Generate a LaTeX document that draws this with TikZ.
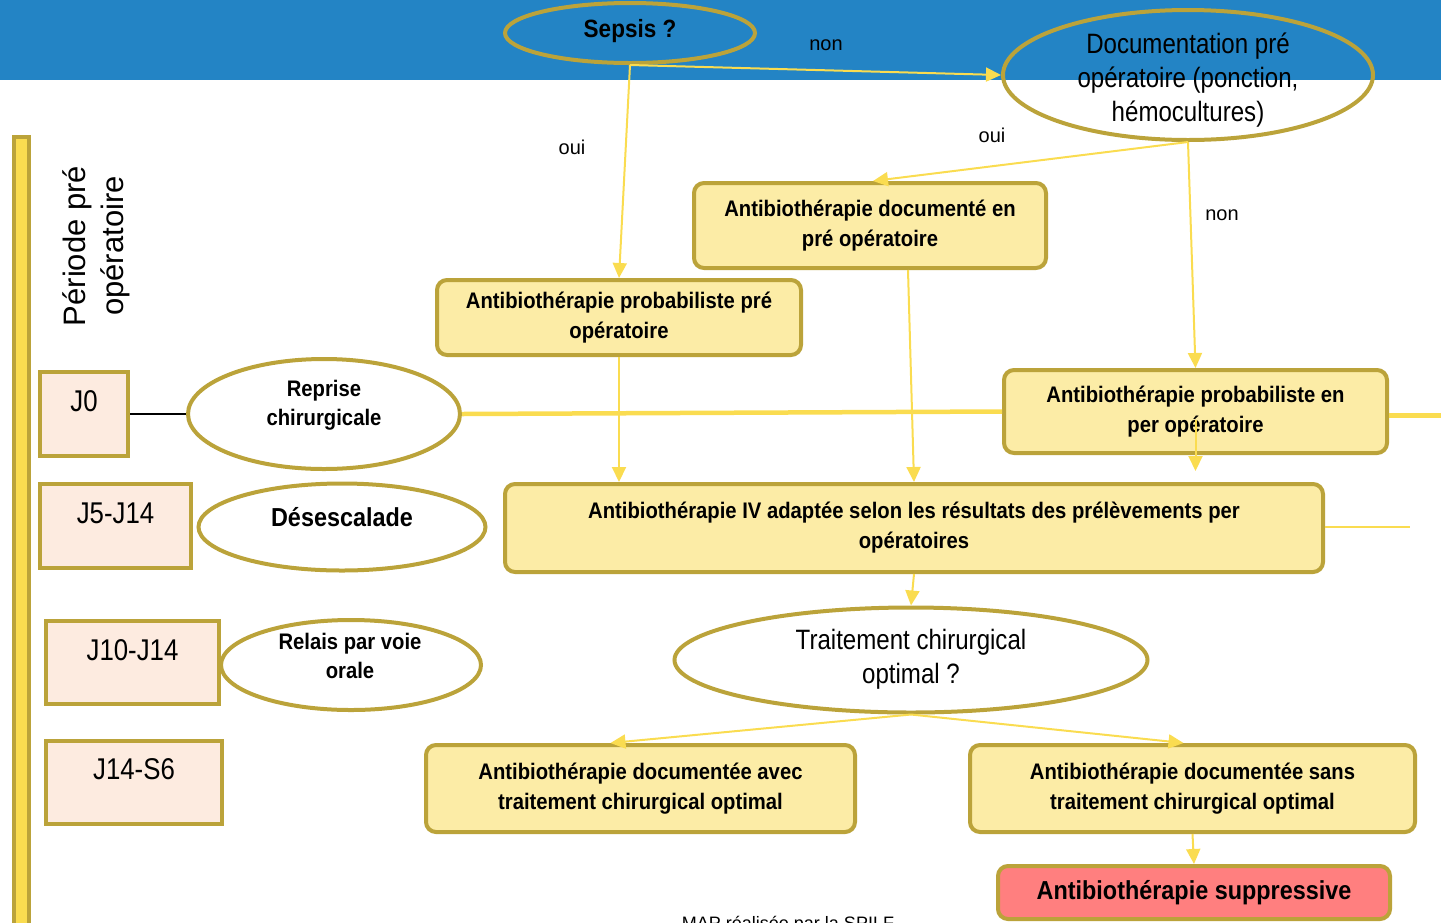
\documentclass[tikz,border=0pt]{standalone}
\usepackage{fontspec}
\setmainfont{Liberation Sans}
\newfontfamily\nf{Liberation Sans}[FakeStretch=0.86]
\newfontfamily\bnf{Liberation Sans}[FakeStretch=0.9]
\usetikzlibrary{shapes.geometric,arrows.meta}
\definecolor{topblue}{RGB}{35,132,197}
\definecolor{gold}{RGB}{187,163,58}
\definecolor{yel}{RGB}{250,220,80}
\definecolor{boxfill}{RGB}{252,236,166}
\definecolor{dayfill}{RGB}{253,235,224}
\definecolor{redfill}{RGB}{255,127,127}
\tikzset{
  box/.style={draw=gold, line width=4pt, fill=boxfill, rounded corners=10pt, inner sep=0pt, align=center,
    font=\bnf\bfseries\fontsize{22.5}{30}\selectfont},
  ell/.style={draw=gold, line width=4pt, ellipse, inner sep=0pt},
  daybox/.style={draw=gold, line width=4pt, fill=dayfill, inner sep=0pt},
  daytxt/.style={font=\nf\fontsize{30}{34}\selectfont, inner sep=0pt},
  btxt/.style={font=\bnf\bfseries\fontsize{22.5}{29}\selectfont, align=center, inner sep=0pt},
  rtxt/.style={font=\nf\fontsize{28}{34}\selectfont, align=center, inner sep=0pt},
  lbl/.style={font=\fontsize{20}{24}\selectfont, inner sep=0pt},
  arr/.style={draw=yel, line width=2pt, -{Triangle[width=14pt,length=15pt]}},
  thickline/.style={draw=yel, line width=4.5pt},
  thinline/.style={draw=yel, line width=2pt},
}
\begin{document}
\begin{tikzpicture}[x=1pt,y=-1pt]
\useasboundingbox (0,0) rectangle (1441,922);
% top band
\fill[topblue] (0,0) rectangle (1441,80);
% left bar
\draw[gold, line width=4pt, fill=yel] (14,137) rectangle (29,940);
\node[rotate=90, align=center, inner sep=0pt, font=\fontsize{31}{38}\selectfont] (periode) at (96,246) {Période pré\\opératoire};

% day boxes
\node[daybox, minimum width=88, minimum height=84] (j0) at (84,414) {};
\node[daytxt] (j0t) at (84,401) {J0};
\node[daybox, minimum width=151, minimum height=84] (j5) at (115.5,526) {};
\node[daytxt] (j5t) at (115.5,513) {J5-J14};
\node[daybox, minimum width=173, minimum height=83] (j10) at (132.5,662.5) {};
\node[daytxt] (j10t) at (132.5,650) {J10-J14};
\node[daybox, minimum width=176, minimum height=83] (j14) at (134,782.5) {};
\node[daytxt] (j14t) at (134,769) {J14-S6};

% ellipses
\node[ell, minimum width=250, minimum height=60] (sepsis) at (630,33) {};
\node[font=\bnf\bfseries\fontsize{25}{30}\selectfont, inner sep=0pt] (sepsist) at (630,31) {Sepsis ?};
\node[ell, minimum width=370, minimum height=130] (doc) at (1188,75) {};
\node[rtxt] (doct) at (1188,80) {Documentation pré\\opératoire (ponction,\\hémocultures)};
\node[ell, minimum width=272, minimum height=110] (reprise) at (324,414) {};
\node[btxt] (repriset) at (324,405.5) {Reprise\\chirurgicale};
\node[ell, minimum width=287, minimum height=87] (deses) at (342,527) {};
\node[font=\bnf\bfseries\fontsize{26}{30}\selectfont, inner sep=0pt] (desest) at (342,517) {Désescalade};
\node[ell, minimum width=260, minimum height=90] (relais) at (351,665) {};
\node[btxt] (relaist) at (350,655.5) {Relais par voie\\orale};
\node[ell, minimum width=473, minimum height=105] (trait) at (911,660) {};
\node[rtxt] (traitt) at (911,659) {Traitement chirurgical\\optimal ?};

% boxes
\node[box, minimum width=352, minimum height=85] (docpre) at (870,225.5) {Antibiothérapie documenté en\\pré opératoire};
\node[box, minimum width=364, minimum height=75] (probpre) at (619,317.5) {Antibiothérapie probabiliste pré\\opératoire};
\node[box, minimum width=383, minimum height=83] (probper) at (1195.5,411.5) {Antibiothérapie probabiliste en\\per opératoire};
\node[box, minimum width=818, minimum height=88] (iv) at (914,528) {Antibiothérapie IV adaptée selon les résultats des prélèvements per\\opératoires};
\node[box, minimum width=429, minimum height=87] (avec) at (640.5,788.5) {Antibiothérapie documentée avec\\traitement chirurgical optimal};
\node[box, minimum width=445, minimum height=87] (sans) at (1192.5,788.5) {Antibiothérapie documentée sans\\traitement chirurgical optimal};
\node[box, fill=redfill, minimum width=392, minimum height=53, font=\bnf\bfseries\fontsize{26}{30}\selectfont] (supp) at (1194,892.5) {Antibiothérapie suppressive};

% connectors
\draw[arr] (sepsis.south) -- (doc.west);
\draw[arr] (sepsis.south) -- (probpre.north);
\draw[arr] (doc.south) -- ([xshift=3pt]docpre.north);
\draw[arr] (doc.south) -- (probper.north);
\draw[arr] (probpre.south) -- (probpre.south |- iv.north);
\draw[arr] ([xshift=38pt]docpre.south) -- (iv.north);
\draw[arr] ([yshift=-8pt]probper.center) -- ([yshift=11pt]probper.center |- iv.north);
\draw[arr] (iv.south) -- (trait.north);
\draw[arr] (trait.south) -- ([xshift=-30pt]avec.north);
\draw[arr] (trait.south) -- ([xshift=-9pt]sans.north);
\draw[arr] (sans.south) -- (supp.north);
\draw[thickline] (reprise.east) -- (probper.west);
\coordinate (rightedge) at (1441,415.5);
\draw[thickline] (probper.east |- rightedge) -- (rightedge);
\coordinate (ivend) at (1410,527);
\draw[thinline] (iv.east |- ivend) -- (ivend);
\draw[black, line width=1.5pt] (j0.east) -- (reprise.west);

% labels
\node[lbl] (l1) at (826,45) {non};
\node[lbl] (l2) at (572,147) {oui};
\node[lbl] (l3) at (992,135) {oui};
\node[lbl] (l4) at (1222,215) {non};

% footer (cut off at the bottom edge, as in the reference)
\node[font=\fontsize{18}{20}\selectfont, inner sep=0pt, anchor=base] (footer) at (788,929) {MAP réalisée par la  SPILF};
\end{tikzpicture}
\end{document}
